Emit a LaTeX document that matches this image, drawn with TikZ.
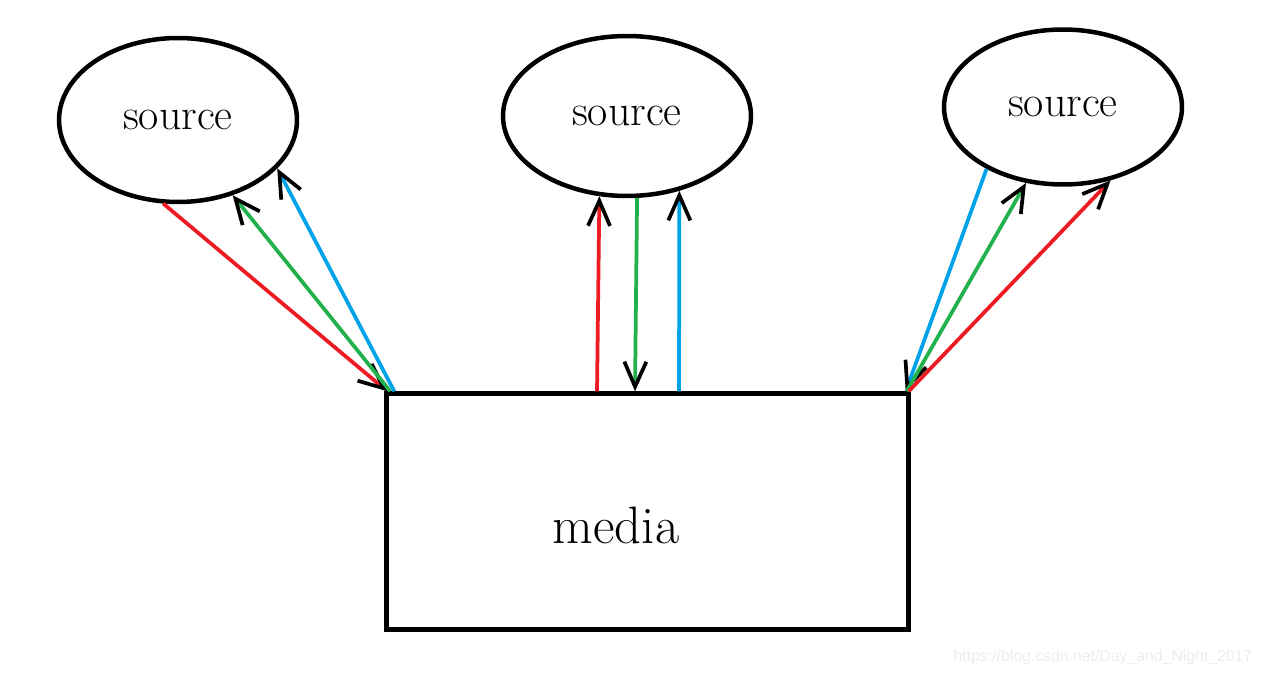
\documentclass[tikz,border=0pt]{standalone}
\usepackage{fontspec}
\newfontfamily\wmfont{Liberation Sans}
\usepackage{tikz}
\usetikzlibrary{shapes.geometric,arrows.meta,positioning,calc}
\definecolor{pred}{RGB}{237,28,36}
\definecolor{pgreen}{RGB}{34,177,76}
\definecolor{pblue}{RGB}{0,162,232}
\tikzset{
  S/.style={draw, ellipse, line width=0.09cm, inner sep=0pt,
            font=\fontsize{25}{30}\selectfont},
  M/.style={draw, rectangle, line width=0.09cm,
            minimum width=10.44cm, minimum height=4.72cm},
  MT/.style={font=\fontsize{30}{36}\selectfont, inner sep=0pt},
  WM/.style={font=\wmfont\fontsize{9}{11}\selectfont, color=gray!14, inner sep=0pt},
  CA/.style={line width=0.075cm,
             -{Straight Barb[length=0.5cm, width=0.44cm, line width=2.1pt, color=black]}}
}

\begin{document}
\begin{tikzpicture}[x=0.02cm, y=-0.02cm]
\useasboundingbox (0,0) rectangle (1263,675);

% ---- sources ----
\node[S, minimum width=4.76cm, minimum height=3.28cm] (S1) at (178,120) {source};
\node[S, minimum width=4.96cm, minimum height=3.20cm] (S2) at (627,116) {source};
\node[S, minimum width=4.76cm, minimum height=3.10cm] (S3) at (1063,107) {source};

% ---- media ----
\node[M] (M) at (647.5,511.5) {};
\node[MT] (ML) at (616,525) {media};

% ---- left group ----
\draw[CA, pred]   (S1.260) -- ([xshift=0.06cm]M.north west);
\draw[CA, pgreen] ([xshift=0.12cm]M.north west) -- (S1.306);
\draw[CA, pblue]  ([xshift=0.2cm]M.north west) -- (S1.334);

% ---- middle group ----
\draw[CA, pred]   ([xshift=-1.01cm]M.north) -- (S2.251);
\draw[CA, pgreen] (S2.277) -- ([xshift=-0.25cm]M.north);
\draw[CA, pblue]  ([xshift=0.63cm]M.north) -- (S2.305);

% ---- right group ----
\draw[CA, pblue]  (S3.219) -- ([xshift=-0.1cm]M.north east);
\draw[CA, pgreen] ([xshift=-0.08cm]M.north east) -- (S3.244);
\draw[CA, pred]   ([xshift=-0.04cm]M.north east) -- (S3.303);

% ---- watermark ----
\node[WM] (W) at (1103,657) {https://blog.csdn.net/Day\_and\_Night\_2017};

\end{tikzpicture}
\end{document}
